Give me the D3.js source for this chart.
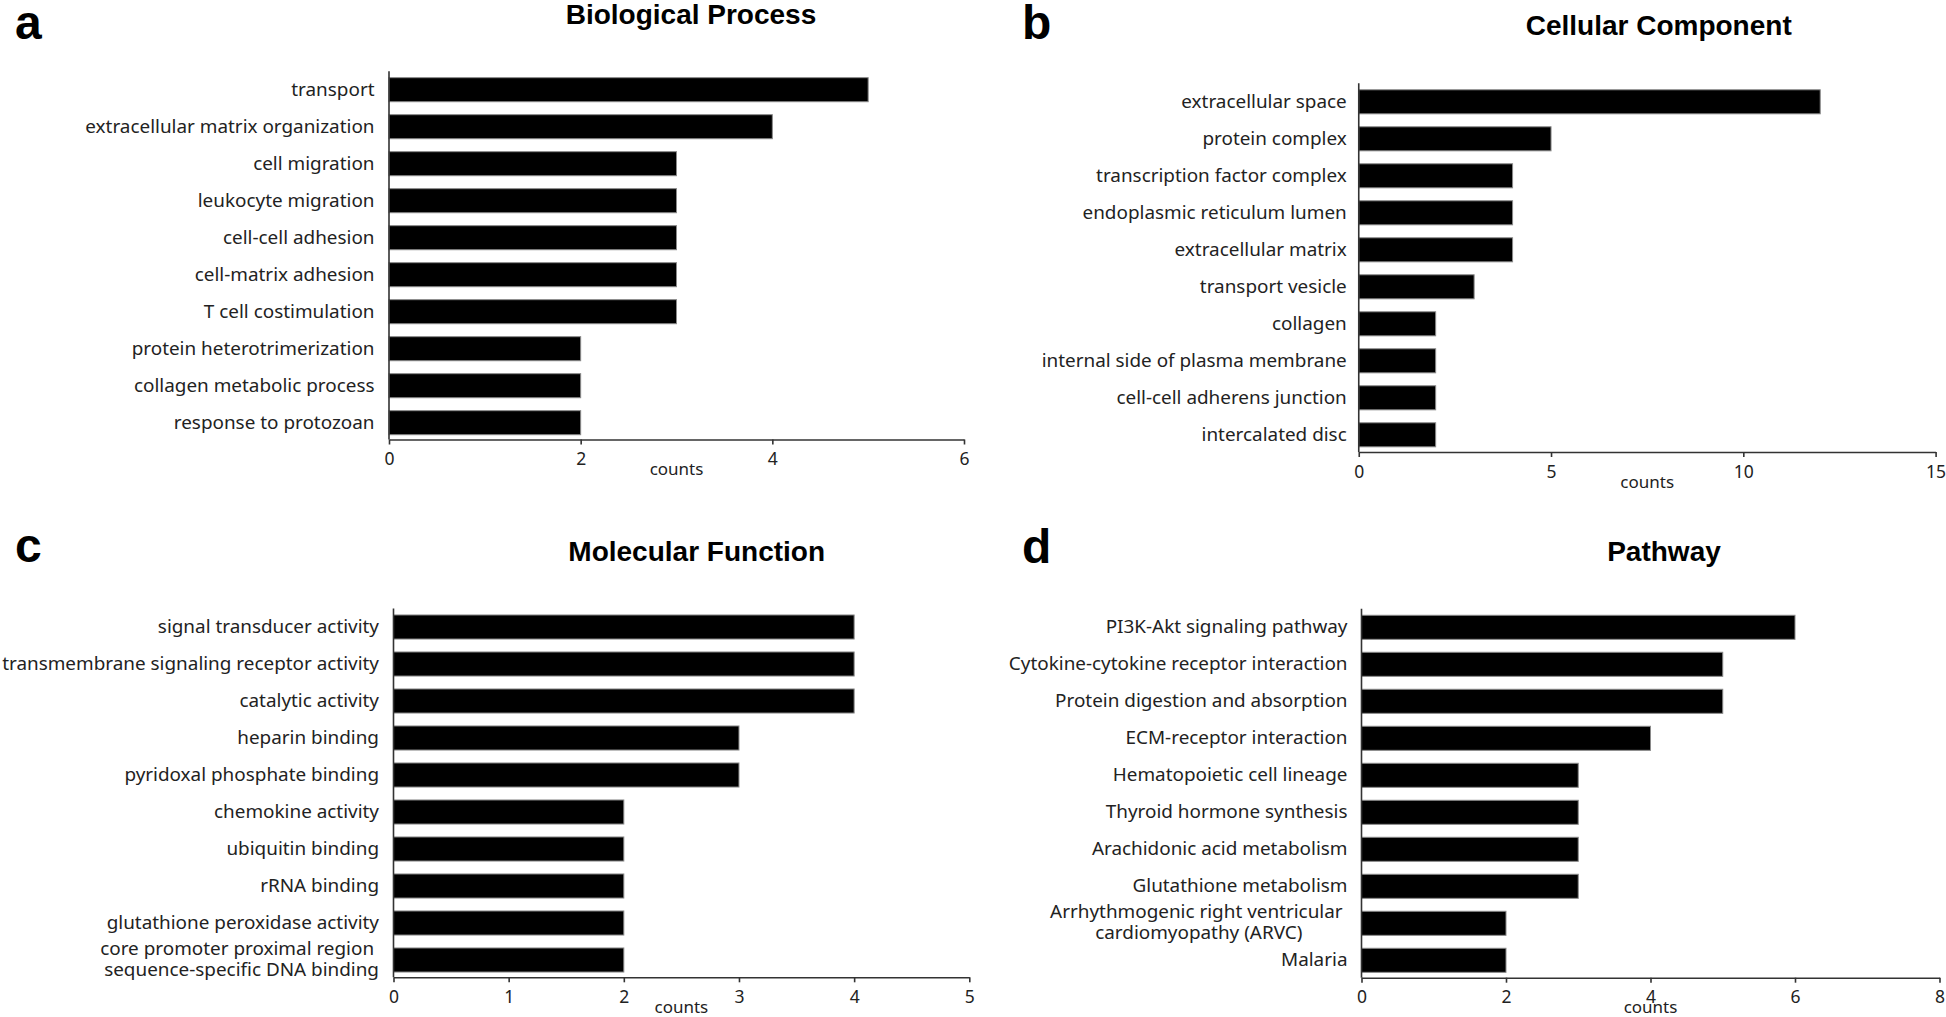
<!DOCTYPE html>
<html><head><meta charset="utf-8">
<script src="https://cdn.jsdelivr.net/npm/d3@7"></script>
<style>body{margin:0;background:#fff}svg{display:block;background:#fff}</style>
</head><body>
<svg id="chart" width="1946" height="1017"></svg>
<script>
// ---- data ----
const bpCategories = ["transport","extracellular matrix organization","cell migration","leukocyte migration","cell-cell adhesion","cell-matrix adhesion","T cell costimulation","protein heterotrimerization","collagen metabolic process","response to protozoan"];
const bpCounts = [5,4,3,3,3,3,3,2,2,2];
const bpTicks = [0,2,4,6];

const ccCategories = ["extracellular space","protein complex","transcription factor complex","endoplasmic reticulum lumen","extracellular matrix","transport vesicle","collagen","internal side of plasma membrane","cell-cell adherens junction","intercalated disc"];
const ccCounts = [12,5,4,4,4,3,2,2,2,2];
const ccTicks = [0,5,10,15];

const mfCategories = ["signal transducer activity","transmembrane signaling receptor activity","catalytic activity","heparin binding","pyridoxal phosphate binding","chemokine activity","ubiquitin binding","rRNA binding","glutathione peroxidase activity","core promoter proximal region \nsequence-specific DNA binding"];
const mfCounts = [4,4,4,3,3,2,2,2,2,2];
const mfTicks = [0,1,2,3,4,5];

const pwCategories = ["PI3K-Akt signaling pathway","Cytokine-cytokine receptor interaction","Protein digestion and absorption","ECM-receptor interaction","Hematopoietic cell lineage","Thyroid hormone synthesis","Arachidonic acid metabolism","Glutathione metabolism","Arrhythmogenic right ventricular \ncardiomyopathy (ARVC)","Malaria"];
const pwCounts = [6,5,5,4,3,3,3,3,2,2];
const pwTicks = [0,2,4,6,8];

// ---- layout ----
const panels = [
  {letter:"a", title:"Biological Process", cats:bpCategories, vals:bpCounts, ticks:bpTicks,
   x0:389, x1:964, top:71.2, axisY:439.5, titleX:691, titleY:24, letterX:15, letterY:39, gap:14.5, multi:"end"},
  {letter:"b", title:"Cellular Component", cats:ccCategories, vals:ccCounts, ticks:ccTicks,
   x0:1358.75, x1:1935.6, top:83.3, axisY:452, titleX:1658.7, titleY:35, letterX:1022, letterY:39, gap:12, multi:"end"},
  {letter:"c", title:"Molecular Function", cats:mfCategories, vals:mfCounts, ticks:mfTicks,
   x0:393.5, x1:969.3, top:608.5, axisY:977.3, titleX:696.7, titleY:561, letterX:15, letterY:562, gap:14.5, multi:"end"},
  {letter:"d", title:"Pathway", cats:pwCategories, vals:pwCounts, ticks:pwTicks,
   x0:1361.5, x1:1939.5, top:608.8, axisY:977.7, titleX:1664, titleY:561, letterX:1022, letterY:563, gap:14, multi:"middle"}
];

const svg = d3.select("#chart");
const labelFont = "'Noto Sans', 'Open Sans', sans-serif";
const boldFont = "'Liberation Sans', Arial, sans-serif";
const labelSize = 18.9;

panels.forEach(p => {
  const g = svg.append("g");
  const x = d3.scaleLinear().domain([p.ticks[0], p.ticks[p.ticks.length-1]]).range([p.x0, p.x1]);
  const y = d3.scaleBand().domain(p.cats).range([p.top, p.top + 370]).paddingInner(0.35).paddingOuter(0.175);

  // panel letter
  g.append("text").attr("x", p.letterX).attr("y", p.letterY)
    .attr("font-family", boldFont).attr("font-weight", "bold").attr("font-size", 48)
    .attr("fill", "#000").text(p.letter);
  // title
  g.append("text").attr("x", p.titleX).attr("y", p.titleY).attr("text-anchor", "middle")
    .attr("font-family", boldFont).attr("font-weight", "bold").attr("font-size", 28)
    .attr("fill", "#000").text(p.title);

  // bars
  g.selectAll("rect.bar").data(p.cats.map((c,i) => ({c, v:p.vals[i]}))).enter()
    .append("rect").attr("class","bar")
    .attr("x", x(0)).attr("y", d => y(d.c))
    .attr("width", d => x(d.v) - x(0)).attr("height", y.bandwidth())
    .attr("fill", "#000").attr("stroke", "#8a8a8a").attr("stroke-width", 1);

  // y axis line
  g.append("line").attr("x1", x(0)).attr("x2", x(0))
    .attr("y1", y.range()[0]).attr("y2", p.axisY)
    .attr("stroke", "#333").attr("stroke-width", 1.6);

  // x axis
  const ax = g.append("g").attr("transform", `translate(0,${p.axisY})`)
    .call(d3.axisBottom(x).tickValues(p.ticks).tickSize(5).tickSizeOuter(0).tickFormat(d3.format("d")));
  ax.select(".domain").attr("stroke", "#333").attr("stroke-width", 1.6);
  ax.selectAll(".tick line").attr("stroke", "#333").attr("stroke-width", 1.6);
  ax.selectAll(".tick text").attr("y", 25.5).attr("dy", null)
    .attr("font-family", labelFont).attr("font-size", 17.5).attr("fill", "#222");

  // x axis title
  g.append("text").attr("x", (x.range()[0] + x.range()[1]) / 2).attr("y", p.axisY + 35.5)
    .attr("text-anchor", "middle").attr("font-family", labelFont).attr("font-size", 17)
    .attr("fill", "#222").text("counts");

  // category labels
  const lx = x(0) - p.gap;
  p.cats.forEach(c => {
    const cy = y(c) + y.bandwidth() / 2;
    const lines = c.split("\n");
    const t = g.append("text").attr("font-family", labelFont).attr("font-size", labelSize)
      .attr("fill", "#222").attr("xml:space", "preserve");
    if (lines.length === 1) {
      t.attr("x", lx).attr("y", cy + 5.8).attr("text-anchor", "end").text(c);
    } else {
      if (p.multi === "end") {
        t.attr("text-anchor", "end");
        lines.forEach((ln, k) => t.append("tspan").attr("x", lx)
          .attr("y", cy + 5.5 + (k === 0 ? -10.5 : 10.5)).text(ln));
      } else {
        const tmp = g.append("text").attr("font-family", labelFont).attr("font-size", labelSize)
          .attr("xml:space", "preserve").text(lines[0]);
        const w = tmp.node().getComputedTextLength();
        tmp.remove();
        const cx = lx - w / 2;
        t.attr("text-anchor", "middle");
        lines.forEach((ln, k) => t.append("tspan").attr("x", cx)
          .attr("y", cy + 5.5 + (k === 0 ? -10.5 : 10.5)).text(ln));
      }
    }
  });
});
</script>
</body></html>
